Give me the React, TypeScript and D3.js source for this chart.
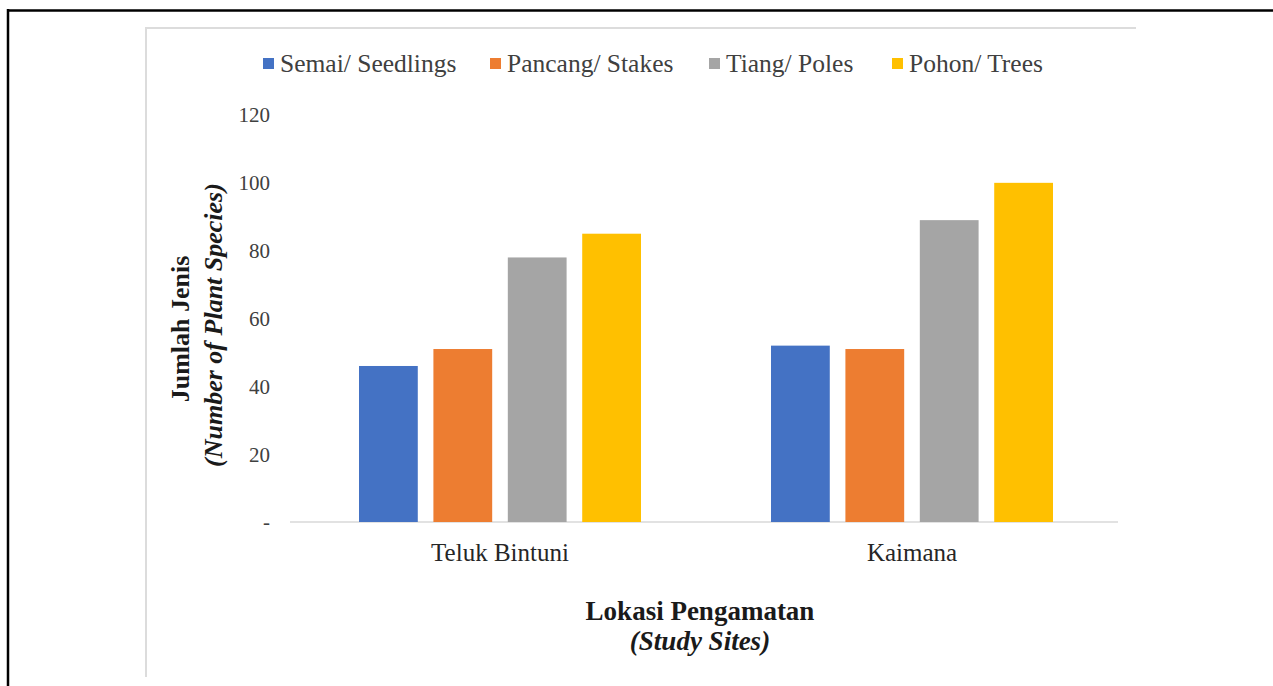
import React, { useEffect, useRef } from 'react';
import * as d3 from 'd3';

const sites = ['Teluk Bintuni', 'Kaimana'];
const seriesNames = ['Semai/ Seedlings', 'Pancang/ Stakes', 'Tiang/ Poles', 'Pohon/ Trees'];
const seriesColors = ['#4472C4', '#ED7D31', '#A5A5A5', '#FFC000'];
const semai = [46, 52];
const pancang = [51, 51];
const tiang = [78, 89];
const pohon = [85, 100];
const yTicks = [0, 20, 40, 60, 80, 100, 120];
const yTickLabels = ['-', '20', '40', '60', '80', '100', '120'];
const legendX = [263, 490, 709, 892];

const App = () => {
  const svgRef = useRef(null);

  useEffect(() => {
    const width = 1273;
    const height = 686;
    const svg = d3.select(svgRef.current);
    svg.selectAll('*').remove();
    svg.attr('width', width).attr('height', height);

    const font = '"Liberation Serif", "Times New Roman", "DejaVu Serif", serif';

    // frame lines
    svg.append('line').attr('x1', 7).attr('x2', width).attr('y1', 10.5).attr('y2', 10.5)
      .attr('stroke', '#000').attr('stroke-width', 2.5);
    svg.append('line').attr('x1', 8).attr('x2', 8).attr('y1', 9).attr('y2', height)
      .attr('stroke', '#000').attr('stroke-width', 2.5);
    svg.append('line').attr('x1', 145).attr('x2', 1136).attr('y1', 28).attr('y2', 28)
      .attr('stroke', '#dcdcdc').attr('stroke-width', 2);
    svg.append('line').attr('x1', 146).attr('x2', 146).attr('y1', 28).attr('y2', 677)
      .attr('stroke', '#dcdcdc').attr('stroke-width', 2);

    const data = [semai, pancang, tiang, pohon];

    const x0 = d3.scaleBand().domain(sites).range([294, 1118]).paddingInner(0).paddingOuter(0);
    const x1 = d3.scaleBand().domain(seriesNames).range([65, x0.bandwidth() - 65]).paddingInner(0.21);
    const y = d3.scaleLinear().domain([0, 120]).range([522, 115]);

    // baseline
    svg.append('line').attr('x1', 290).attr('x2', 1118).attr('y1', y(0)).attr('y2', y(0))
      .attr('stroke', '#d9d9d9').attr('stroke-width', 1.5);

    // bars
    sites.forEach((s, i) => {
      const g = svg.append('g').attr('transform', `translate(${x0(s)},0)`);
      seriesNames.forEach((n, j) => {
        g.append('rect')
          .attr('x', x1(n))
          .attr('y', y(data[j][i]))
          .attr('width', x1.bandwidth())
          .attr('height', y(0) - y(data[j][i]))
          .attr('fill', seriesColors[j]);
      });
    });

    // y tick labels
    svg.append('g').selectAll('text').data(yTicks).enter().append('text')
      .attr('x', 270)
      .attr('y', (d) => y(d))
      .attr('dy', '0.35em')
      .attr('text-anchor', 'end')
      .attr('font-family', font)
      .attr('font-size', 21)
      .attr('fill', '#404040')
      .text((d, i) => yTickLabels[i]);

    // x labels
    svg.append('g').selectAll('text').data(sites).enter().append('text')
      .attr('x', (d) => x0(d) + x0.bandwidth() / 2)
      .attr('y', 561)
      .attr('text-anchor', 'middle')
      .attr('font-family', font)
      .attr('font-size', 25)
      .attr('fill', '#262626')
      .text((d) => d);

    // x title
    svg.append('text').attr('x', 700).attr('y', 620).attr('text-anchor', 'middle')
      .attr('font-family', font).attr('font-size', 27).attr('font-weight', 'bold')
      .attr('fill', '#1a1a1a').text('Lokasi Pengamatan');
    svg.append('text').attr('x', 700).attr('y', 650).attr('text-anchor', 'middle')
      .attr('font-family', font).attr('font-size', 27).attr('font-weight', 'bold')
      .attr('font-style', 'italic').attr('fill', '#1a1a1a').text('(Study Sites)');

    // y title
    svg.append('text').attr('transform', 'translate(189,329) rotate(-90)')
      .attr('text-anchor', 'middle').attr('font-family', font).attr('font-size', 26)
      .attr('font-weight', 'bold').attr('fill', '#1a1a1a').text('Jumlah Jenis');
    svg.append('text').attr('transform', 'translate(222,325) rotate(-90)')
      .attr('text-anchor', 'middle').attr('font-family', font).attr('font-size', 26)
      .attr('font-weight', 'bold').attr('font-style', 'italic').attr('fill', '#1a1a1a')
      .text('(Number of Plant Species)');

    // legend
    const lg = svg.append('g');
    seriesNames.forEach((n, j) => {
      lg.append('rect').attr('x', legendX[j]).attr('y', 58).attr('width', 11).attr('height', 11)
        .attr('fill', seriesColors[j]);
      lg.append('text').attr('x', legendX[j] + 17).attr('y', 72)
        .attr('font-family', font).attr('font-size', 25.5).attr('fill', '#404040')
        .text(n);
    });
  }, []);

  return <svg ref={svgRef} style={{ position: 'absolute', left: 0, top: 0 }}></svg>;
};

export default App;
